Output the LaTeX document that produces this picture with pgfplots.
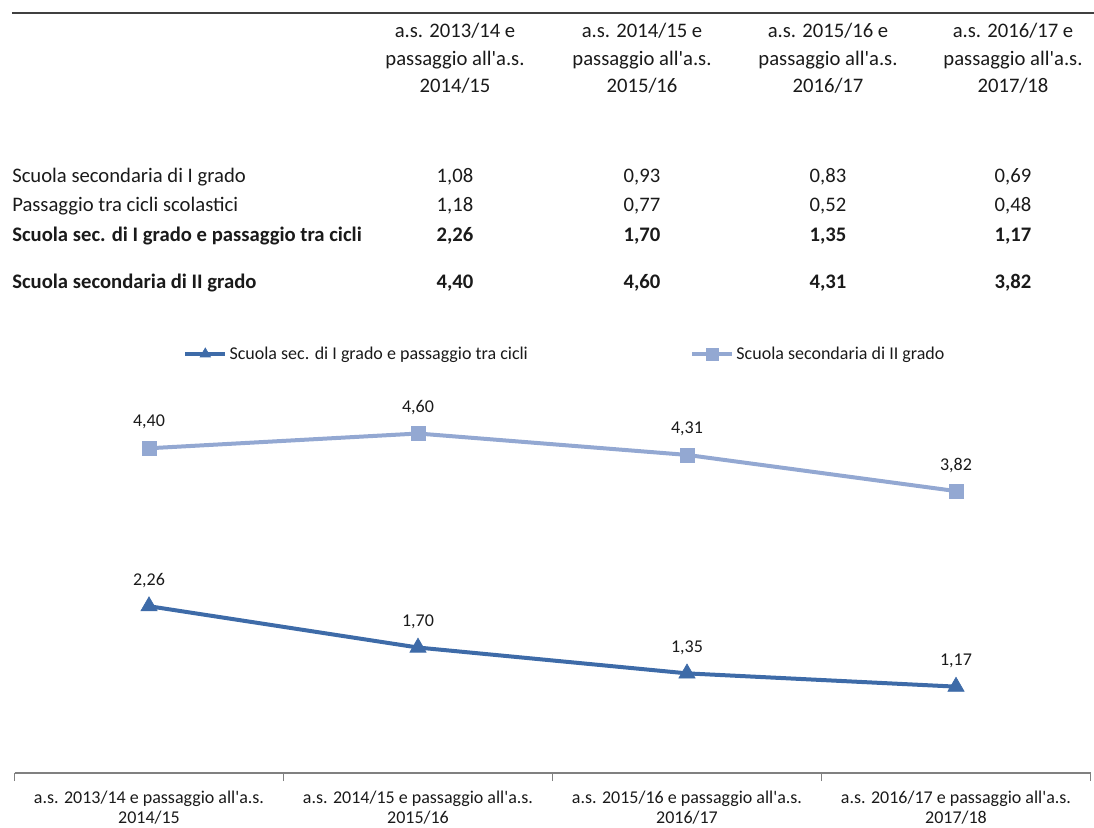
\documentclass[border=0pt]{standalone}
\usepackage{pgfplots}
\pgfplotsset{compat=1.18}
\usepackage{fontspec}
\setmainfont{Carlito}
\definecolor{dkblue}{HTML}{3E6BA8}
\definecolor{ltblue}{HTML}{93A8D2}
\definecolor{txt}{HTML}{1A1A1A}
\newcommand{\q}{\textquotesingle}
\newcommand{\tabfont}{\fontsize{15.5}{18}\selectfont}
\newcommand{\chfont}{\fontsize{13.5}{15}\selectfont}

\pgfplotstableread{
x y l
0 2.26 2,26
1 1.70 1,70
2 1.35 1,35
3 1.17 1,17
}\primo
\pgfplotstableread{
x y l
0 4.40 4,40
1 4.60 4,60
2 4.31 4,31
3 3.82 3,82
}\secondo

\begin{document}
\begin{tikzpicture}
\begin{axis}[
  at={(0,0)}, anchor=south west,
  width=807pt, height=276.75pt, scale only axis,
  xmin=-0.5, xmax=3.5, ymin=0, ymax=5,
  clip=false,
  hide y axis,
  axis x line*=bottom,
  x axis line style={draw=gray, line width=1.5pt},
  xtick={0,1,2,3},
  xticklabels={{a.s. 2013/14 e passaggio all\q a.s.\\2014/15},
               {a.s. 2014/15 e passaggio all\q a.s.\\2015/16},
               {a.s. 2015/16 e passaggio all\q a.s.\\2016/17},
               {a.s. 2016/17 e passaggio all\q a.s.\\2017/18}},
  major tick length=0pt,
  xticklabel style={font=\chfont, align=center, text=txt, inner sep=0pt, yshift=-13.5pt},
  extra x ticks={-0.5,0.5,1.5,2.5,3.5},
  extra x tick labels={},
  extra x tick style={major tick length=6pt, tick align=outside,
     major tick style={draw=gray, line width=0.8pt}},
  legend style={at={(0.512,1.1355)}, anchor=center, draw=none, fill=none,
     legend columns=2, font=\chfont, text=txt,
     /tikz/every even column/.append style={column sep=120pt}},
  legend image code/.code={%
     \draw[#1, line width=2.4pt, mark size=0pt] (0pt,0pt) -- (30pt,0pt);
     \draw[#1, line width=1pt, mark repeat=1, mark size=4.5pt] plot coordinates {(15pt,0pt)};},
  every node near coord/.append style={font=\chfont, text=txt, anchor=center, yshift=19.5pt},
]
\addplot[dkblue, line width=3pt, mark=triangle*, mark size=7pt,
   mark options={solid, line width=0.5pt},
   nodes near coords, point meta=explicit symbolic]
   table[x=x, y=y, meta=l] {\primo};
\addlegendentry{Scuola sec. di I grado e passaggio tra cicli}
\addplot[ltblue, line width=3pt, mark=square*, mark size=5.2pt,
   mark options={solid, line width=0.5pt},
   nodes near coords, point meta=explicit symbolic]
   table[x=x, y=y, meta=l] {\secondo};
\addlegendentry{Scuola secondaria di II grado}
\end{axis}

\begin{scope}[shift={(-10.875pt,579.75pt)}, x=0.75pt, y=-0.75pt]
  \draw[draw=black!75, line width=2.2pt] (12,13) -- (1094,13);
  \tabfont
  \foreach \cx/\a/\b in {455/2013\slash 14/2014\slash 15, 642/2014\slash 15/2015\slash 16,
                         828/2015\slash 16/2016\slash 17, 1013/2016\slash 17/2017\slash 18} {
    \node[anchor=base, text=txt, inner sep=0pt] at (\cx,38) {a.s. \a\ e};
    \node[anchor=base, text=txt, inner sep=0pt] at (\cx,66) {passaggio all\q a.s.};
    \node[anchor=base, text=txt, inner sep=0pt] at (\cx,93) {\b};
  }
  \node[anchor=base west, text=txt, inner sep=0pt] at (12,183) {Scuola secondaria di I grado};
  \node[anchor=base west, text=txt, inner sep=0pt] at (12,212) {Passaggio tra cicli scolastici};
  \node[anchor=base west, text=txt, inner sep=0pt, font=\bfseries] at (12,242) {Scuola sec. di I grado e passaggio tra cicli};
  \node[anchor=base west, text=txt, inner sep=0pt, font=\bfseries] at (12,289) {Scuola secondaria di II grado};
  \foreach \cx/\r/\s/\t/\u in {455/{1,08}/{1,18}/{2,26}/{4,40}, 642/{0,93}/{0,77}/{1,70}/{4,60},
                               828/{0,83}/{0,52}/{1,35}/{4,31}, 1013/{0,69}/{0,48}/{1,17}/{3,82}} {
    \node[anchor=base, text=txt, inner sep=0pt] at (\cx,183) {\r};
    \node[anchor=base, text=txt, inner sep=0pt] at (\cx,212) {\s};
    \node[anchor=base, text=txt, inner sep=0pt, font=\bfseries] at (\cx,242) {\t};
    \node[anchor=base, text=txt, inner sep=0pt, font=\bfseries] at (\cx,289) {\u};
  }
  \pgfresetboundingbox
  \path[use as bounding box] (0,0) rectangle (1094,827);
\end{scope}
\end{tikzpicture}
\end{document}
